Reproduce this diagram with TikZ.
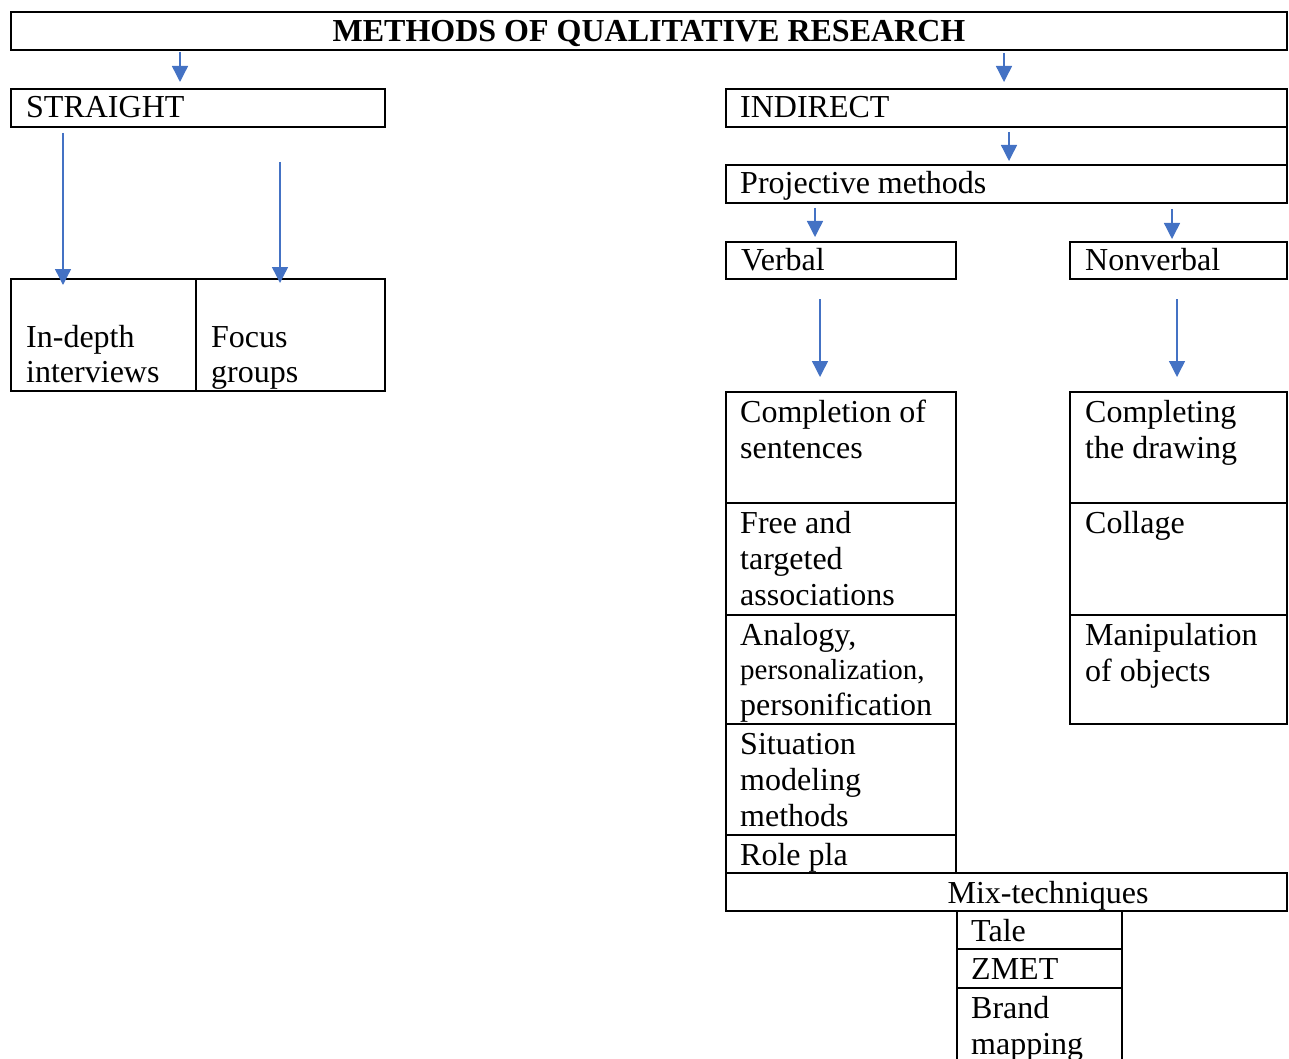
\documentclass[tikz,border=0pt]{standalone}
\usepackage{fontspec}
\setmainfont{Liberation Serif}
\usetikzlibrary{arrows.meta}
\definecolor{arrowblue}{HTML}{4472C4}
\newcommand{\cellpar}[1]{\parbox[t]{320pt}{\raggedright #1}}
\begin{document}
\begin{tikzpicture}[x=1pt,y=-1pt,
  box/.style={draw, line width=2pt, inner sep=0pt, outer sep=0pt, anchor=north west},
  arr/.style={draw=arrowblue, line width=1.4pt, -{Triangle[width=16pt,length=16pt]}},
  txt/.style={anchor=base west, inner sep=0pt, font=\fontsize{32}{36}\selectfont},
  ctxt/.style={anchor=base, inner sep=0pt, font=\fontsize{32}{36}\selectfont}]
\useasboundingbox (0,0) rectangle (1289,1059);
\clip (0,0) rectangle (1289,1059);

% frames
\node[box, minimum width=1276pt, minimum height=38pt] (title) at (11,12) {};
\node[box, minimum width=374pt, minimum height=38pt] (straight) at (11,89) {};
\node[box, minimum width=561pt, minimum height=38pt] (indirect) at (726,89) {};
\node[box, minimum width=561pt, minimum height=38pt] (proj) at (726,165) {};
\node[box, minimum width=230pt, minimum height=37pt] (verbal) at (726,242) {};
\node[box, minimum width=217pt, minimum height=37pt] (nonverbal) at (1070,242) {};
\node[box, minimum width=185pt, minimum height=112pt] (indepth) at (11,279) {};
\node[box, minimum width=189pt, minimum height=112pt] (focus) at (196,279) {};
\node[box, minimum width=230pt, minimum height=111pt] (v1) at (726,392) {};
\node[box, minimum width=230pt, minimum height=112pt] (v2) at (726,503) {};
\node[box, minimum width=230pt, minimum height=109pt] (v3) at (726,615) {};
\node[box, minimum width=230pt, minimum height=111pt] (v4) at (726,724) {};
\node[box, minimum width=230pt, minimum height=38pt] (v5) at (726,835) {};
\node[box, minimum width=217pt, minimum height=111pt] (n1) at (1070,392) {};
\node[box, minimum width=217pt, minimum height=112pt] (n2) at (1070,503) {};
\node[box, minimum width=217pt, minimum height=109pt] (n3) at (1070,615) {};
\node[box, minimum width=561pt, minimum height=38pt] (mix) at (726,873) {};
\node[box, minimum width=165pt, minimum height=38pt] (tale) at (957,911) {};
\node[box, minimum width=165pt, minimum height=39pt] (zmet) at (957,949) {};
\node[box, minimum width=165pt, minimum height=90pt] (brand) at (957,988) {};
\draw[line width=2pt] (indirect.south east) -- (proj.north east);

% texts
\node[ctxt, font=\fontsize{32}{36}\selectfont\bfseries] (t-title) at (649,42) {METHODS OF QUALITATIVE RESEARCH};
\node[txt] (t-straight) at (26,118) {STRAIGHT};
\node[txt] (t-indirect) at (740,118) {INDIRECT};
\node[txt] (t-proj) at (740,194) {Projective methods};
\node[txt] (t-verbal) at (741,270) {Verbal};
\node[txt] (t-nonverbal) at (1085,270) {Nonverbal};
\node[txt] (t-indepth) at (26,347) {\cellpar{In-depth\\[-1pt]interviews}};
\node[txt] (t-focus) at (211,347) {\cellpar{Focus\\[-1pt]groups}};
\node[txt] (t-v1) at (740,422) {\cellpar{Completion of\\sentences}};
\node[txt] (t-v2) at (740,533) {\cellpar{Free and\\targeted\\associations}};
\node[txt] (t-v3) at (740,645) {\cellpar{Analogy,\\[-2pt]{\fontsize{29}{34}\selectfont personalization,}\\personification}};
\node[txt] (t-v4) at (740,754) {\cellpar{Situation\\modeling\\methods}};
\node[txt] (t-v5) at (740,865) {Role pla};
\node[txt] (t-n1) at (1085,422) {\cellpar{Completing\\the drawing}};
\node[txt] (t-n2) at (1085,533) {Collage};
\node[txt] (t-n3) at (1085,645) {\cellpar{Manipulation\\of objects}};
\node[ctxt] (t-mix) at (1048,903) {Mix-techniques};
\node[txt] (t-tale) at (971,941) {Tale};
\node[txt] (t-zmet) at (971,979) {ZMET};
\node[txt] (t-brand) at (971,1018) {\cellpar{Brand\\mapping}};

% arrows
\coordinate (ax1) at (180,0);
\coordinate (ax2) at (1004,0);
\coordinate (ax3) at (1009,0);
\coordinate (ax4) at (815,0);
\coordinate (ax5) at (1172,0);
\coordinate (ax6) at (820,0);
\coordinate (ax7) at (1177,0);
\coordinate (ax8) at (63,0);
\coordinate (ax9) at (280,0);
\draw[arr, shorten <=2pt, shorten >=7pt] (title.south -| ax1) -- (straight.north -| ax1);
\draw[arr, shorten <=3pt, shorten >=7pt] (title.south -| ax2) -- (indirect.north -| ax2);
\draw[arr, shorten <=5pt, shorten >=4pt] (indirect.south -| ax3) -- (proj.north -| ax3);
\draw[arr, shorten <=5pt, shorten >=5pt] (proj.south -| ax4) -- (verbal.north -| ax4);
\draw[arr, shorten <=6pt, shorten >=3pt] (proj.south -| ax5) -- (nonverbal.north -| ax5);
\draw[arr, shorten <=20pt, shorten >=15pt] (verbal.south -| ax6) -- (v1.north -| ax6);
\draw[arr, shorten <=20pt, shorten >=15pt] (nonverbal.south -| ax7) -- (n1.north -| ax7);
\draw[arr, shorten <=6pt, shorten >=-6pt] (straight.south -| ax8) -- (indepth.north -| ax8);
\draw[arr, shorten <=35pt, shorten >=-4pt] (straight.south -| ax9) -- (focus.north -| ax9);
\end{tikzpicture}
\end{document}
